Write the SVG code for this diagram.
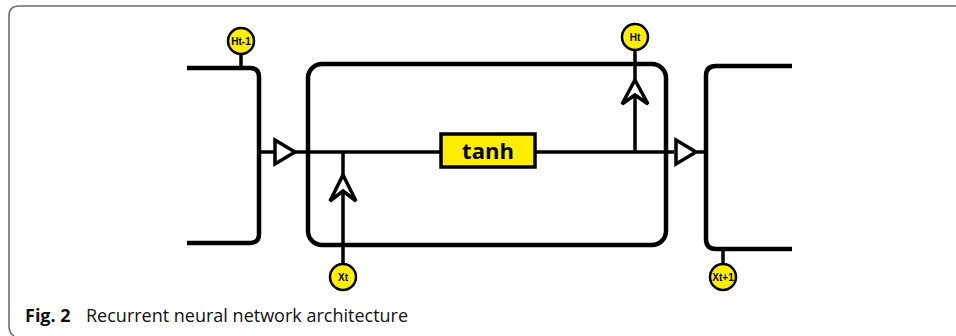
<svg xmlns="http://www.w3.org/2000/svg" width="956" height="336" viewBox="0 0 956 336">
<defs>
<style>
.w{fill:none;stroke:#000;stroke-width:4.5;stroke-linejoin:round}
.l{fill:none;stroke:#000;stroke-width:3.5}
.tri{fill:#fff;stroke:#000;stroke-width:3.5;stroke-linejoin:miter}
.ah{fill:#fff;stroke:#000;stroke-width:3.5;stroke-linejoin:miter}
.c{fill:#ffee00;stroke:#000;stroke-width:2.5}
.ct{font-family:"Liberation Sans Narrow","Liberation Sans",sans-serif;font-size:10px;font-weight:bold;fill:#000;text-anchor:middle}
</style>
</defs>
<rect width="956" height="336" fill="#fff"/>
<path d="M956 6 H19 Q9 6 9 16 V326 Q9 333 14 336" fill="none" stroke="#6e6e6e" stroke-width="1.6"/>
<g id="connectors">
<line class="l" x1="241" y1="53" x2="241" y2="68"/>
<line class="l" x1="260" y1="152" x2="274" y2="152"/>
<line class="l" x1="295" y1="152" x2="674" y2="152"/>
<line class="l" x1="697" y1="152" x2="706" y2="152"/>
<line class="l" x1="343" y1="152" x2="343" y2="265"/>
<line class="l" x1="635" y1="152" x2="635" y2="48"/>
<line class="l" x1="723" y1="249" x2="723" y2="265"/>
<polygon class="tri" points="275,140 295,152 275,164"/>
<polygon class="tri" points="676,140 696,152 676,164"/>
<polygon class="ah" points="343,175 356,201 343,191 330,201"/>
<polygon class="ah" points="635,80 648,104 635,95 622,104"/>
</g>
<g id="prev-cell">
<path class="w" d="M187 68 H250 Q259 68 259 77 V234 Q259 243 250 243 H187"/>
</g>
<g id="cell">
<rect class="w" x="308" y="64" width="358" height="181" rx="14"/>
</g>
<g id="next-cell">
<path class="w" d="M792 66 H716 Q706 66 706 76 V239 Q706 249 716 249 H792"/>
</g>
<g id="tanh">
<rect x="441" y="134" width="94" height="33" fill="#ffee00" stroke="#000" stroke-width="3.5"/>
<text x="488" y="159" font-family="'Open Sans','Liberation Sans',sans-serif" font-size="22" font-weight="bold" text-anchor="middle">tanh</text>
</g>
<g id="ht1">
<circle class="c" cx="241" cy="41" r="13"/>
<text class="ct" x="241" y="44.5" font-size="9">Ht-1</text>
</g>
<g id="ht">
<circle class="c" cx="635" cy="37" r="13"/>
<text class="ct" x="635" y="41">Ht</text>
</g>
<g id="xt">
<circle class="c" cx="343" cy="277" r="13"/>
<text class="ct" x="343" y="281" font-weight="normal">Xt</text>
</g>
<g id="xt1">
<circle class="c" cx="723" cy="277" r="13"/>
<text class="ct" x="723" y="280.5" font-size="9">Xt+1</text>
</g>
<g id="caption">
<text x="25" y="322" font-family="'Open Sans','Liberation Sans',sans-serif" font-size="18" fill="#111"><tspan font-weight="bold">Fig. 2</tspan><tspan x="86">Recurrent neural network architecture</tspan></text>
</g>
</svg>
